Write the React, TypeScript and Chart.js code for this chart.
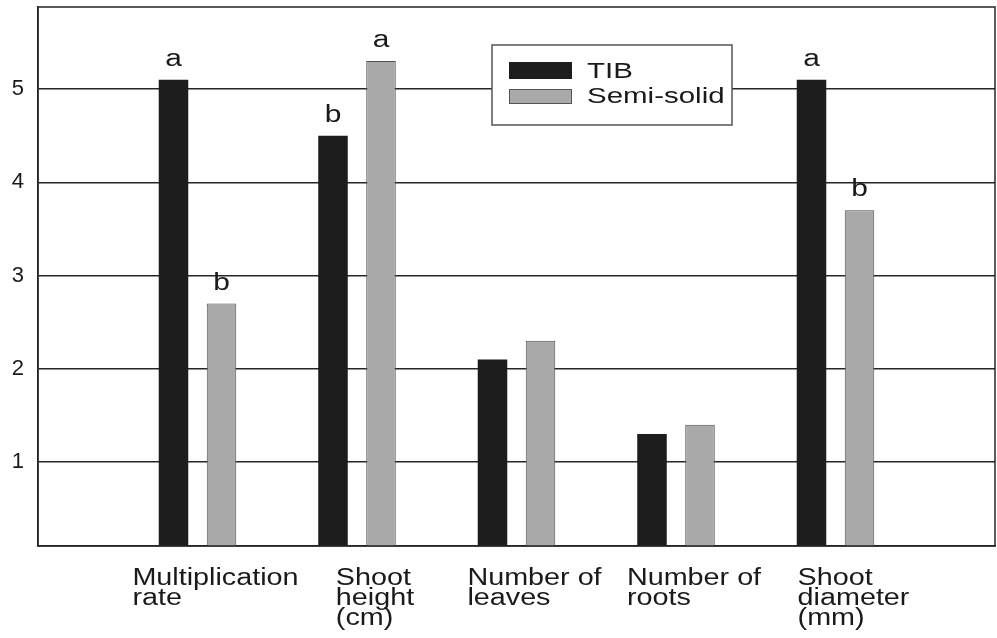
import React, { useEffect, useRef } from 'react';
import { Chart, registerables } from 'chart.js';

Chart.register(...registerables);

// Category labels (one entry per text line)
const categories: string[][] = [
  ['Multiplication', 'rate'],
  ['Shoot', 'height', '(cm)'],
  ['Number of', 'leaves'],
  ['Number of', 'roots'],
  ['Shoot', 'diameter', '(mm)'],
];
const seriesNames = ['TIB', 'Semi-solid'];
const tibValues = [5.1, 4.5, 2.1, 1.3, 5.1];
const semiSolidValues = [2.7, 5.3, 2.3, 1.4, 3.7];
// Significance letters shown above the bars
const tibLetters = ['a', 'b', '', '', 'a'];
const semiSolidLetters = ['b', 'a', '', '', 'b'];
const yTicks = [1, 2, 3, 4, 5];

const FONT = '"Liberation Sans", Arial, Helvetica, sans-serif';
const DARK = '#1d1d1d';
const GREY = '#a9a9a9';
const LINE = '#262626';

function drawWideText(
  ctx: CanvasRenderingContext2D,
  text: string,
  x: number,
  y: number,
  size: number,
  stretch: number,
  align: CanvasTextAlign
) {
  ctx.save();
  ctx.font = `${size}px ${FONT}`;
  ctx.fillStyle = '#1a1a1a';
  ctx.textBaseline = 'alphabetic';
  ctx.textAlign = align;
  ctx.translate(x, y);
  ctx.scale(stretch, 1);
  ctx.fillText(text, 0, 0);
  ctx.restore();
}

const annotationPlugin = {
  id: 'annotations',
  afterDatasetsDraw(chart: any) {
    const { ctx, chartArea } = chart;
    // close the plot frame on top and right
    ctx.save();
    ctx.strokeStyle = LINE;
    ctx.lineWidth = 1.5;
    ctx.strokeRect(chartArea.left, chartArea.top, chartArea.right - chartArea.left, chartArea.bottom - chartArea.top);
    ctx.restore();

    // letters above bars
    const letterSets = [tibLetters, semiSolidLetters];
    letterSets.forEach((letters, d) => {
      const meta = chart.getDatasetMeta(d);
      letters.forEach((letter, i) => {
        const el = meta.data[i + 1];
        if (!letter || !el) return;
        drawWideText(ctx, letter, el.x, el.y - 14, 23, 1.3, 'center');
      });
    });
  },
  afterDraw(chart: any) {
    const { ctx, chartArea } = chart;
    const xs = chart.scales.x;

    // multi-line category labels, left-aligned within a block
    const size = 23;
    const stretch = 1.25;
    ctx.save();
    ctx.font = `${size}px ${FONT}`;
    categories.forEach((lines, i) => {
      const cx = xs.getPixelForValue(i + 1);
      const w = Math.max(...lines.map((l) => ctx.measureText(l).width)) * stretch;
      const left = cx - w / 2 + 18;
      lines.forEach((line, j) => {
        drawWideText(ctx, line, left, chartArea.bottom + 39 + j * 20, size, stretch, 'left');
      });
    });
    ctx.restore();

    // legend box
    const bx = chartArea.left + 454;
    const by = chartArea.top + 38;
    const bw = 240;
    const bh = 80;
    ctx.save();
    ctx.fillStyle = '#ffffff';
    ctx.fillRect(bx, by, bw, bh);
    ctx.strokeStyle = '#555';
    ctx.lineWidth = 1.5;
    ctx.strokeRect(bx, by, bw, bh);

    ctx.fillStyle = DARK;
    ctx.fillRect(bx + 17, by + 17, 63, 17);
    ctx.fillStyle = GREY;
    ctx.fillRect(bx + 17, by + 44, 63, 15);
    ctx.strokeStyle = '#555';
    ctx.lineWidth = 1;
    ctx.strokeRect(bx + 17.5, by + 44.5, 62, 14);
    ctx.restore();

    drawWideText(ctx, seriesNames[0], bx + 95, by + 33, 22, 1.34, 'left');
    drawWideText(ctx, seriesNames[1], bx + 95, by + 58, 22, 1.34, 'left');
  },
};

export default function App() {
  const canvasRef = useRef<HTMLCanvasElement | null>(null);

  useEffect(() => {
    if (!canvasRef.current) return;
    const chart = new Chart(canvasRef.current, {
      type: 'bar',
      data: {
        labels: ['', ...categories.map((c) => c.join(' ')), ''],
        datasets: [
          {
            label: seriesNames[0],
            data: [null, ...tibValues, null],
            backgroundColor: DARK,
            borderWidth: 0,
            barPercentage: 0.615,
            categoryPercentage: 0.602,
          },
          {
            label: seriesNames[1],
            data: [null, ...semiSolidValues, null],
            backgroundColor: GREY,
            borderColor: '#505050',
            borderWidth: 1,
            barPercentage: 0.615,
            categoryPercentage: 0.602,
          },
        ],
      },
      options: {
        responsive: true,
        maintainAspectRatio: false,
        animation: false,
        layout: { padding: { top: 7, right: 2, left: 0, bottom: 0 } },
        plugins: {
          legend: { display: false },
          tooltip: { enabled: false },
        },
        scales: {
          x: {
            type: 'category',
            offset: false,
            grid: { display: false },
            border: { display: true, color: LINE, width: 1.5 },
            ticks: { display: false },
            afterFit: (s: any) => {
              s.height = 92;
              s.paddingLeft = 0;
              s.paddingRight = 0;
              s.paddingTop = 0;
              s.paddingBottom = 0;
            },
          },
          y: {
            min: 0.1,
            max: 5.88,
            afterBuildTicks: (s: any) => {
              s.ticks = yTicks.map((v) => ({ value: v }));
            },
            grid: { color: LINE, lineWidth: 1.5, drawTicks: false },
            border: { color: LINE, width: 1.5 },
            ticks: {
              padding: 14,
              color: '#1a1a1a',
              font: { family: FONT, size: 22 },
            },
            afterFit: (s: any) => {
              s.width = 38;
              s.paddingTop = 0;
              s.paddingBottom = 0;
              s.paddingLeft = 0;
              s.paddingRight = 0;
            },
          },
        },
      } as any,
      plugins: [annotationPlugin],
    });
    return () => chart.destroy();
  }, []);

  return (
    <div
      style={{
        position: 'absolute',
        left: 0,
        top: 0,
        width: 997,
        height: 638,
        background: '#ffffff',
      }}
    >
      <canvas ref={canvasRef} />
    </div>
  );
}
